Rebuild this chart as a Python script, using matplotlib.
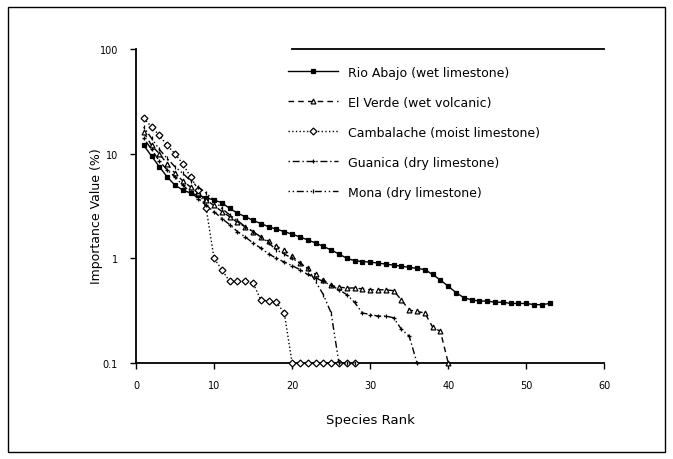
import matplotlib.pyplot as plt
from matplotlib.patches import Rectangle
import numpy as np

plt.rcParams.update({
    'font.family': 'DejaVu Sans',
    'font.size': 8,
})

# Importance values (%) by species rank
rio_abajo = [12, 9.5, 7.5, 6.0, 5.0, 4.5, 4.2, 4.0, 3.8, 3.6,
             3.4, 3.0, 2.7, 2.5, 2.3, 2.15, 2.0, 1.9, 1.8, 1.7,
             1.6, 1.5, 1.4, 1.3, 1.2, 1.1, 1.0, 0.95, 0.93, 0.92,
             0.9, 0.88, 0.86, 0.84, 0.82, 0.8, 0.78, 0.7, 0.62, 0.54,
             0.47, 0.42, 0.4, 0.39, 0.39, 0.38, 0.38, 0.37, 0.37, 0.37,
             0.36, 0.36, 0.37]
el_verde = [16, 12, 10, 8, 6.5, 5.5, 4.8, 4.2, 3.6, 3.2,
            2.8, 2.5, 2.2, 2.0, 1.8, 1.6, 1.45, 1.3, 1.2, 1.05,
            0.9, 0.8, 0.7, 0.62, 0.55, 0.53, 0.52, 0.52, 0.51, 0.5,
            0.5, 0.5, 0.49, 0.4, 0.32, 0.31, 0.3, 0.22, 0.2, 0.1]
cambalache = [22, 18, 15, 12, 10, 8, 6, 4.5, 3.0, 1.0,
              0.78, 0.6, 0.6, 0.6, 0.58, 0.4, 0.39, 0.38, 0.3, 0.1,
              0.1, 0.1, 0.1, 0.1, 0.1, 0.1, 0.1, 0.1]
guanica = [14, 11, 8.5, 7, 6, 5, 4.3, 3.7, 3.2, 2.8,
           2.4, 2.1, 1.8, 1.6, 1.4, 1.25, 1.1, 1.0, 0.92, 0.85,
           0.78, 0.7, 0.65, 0.6, 0.55, 0.5, 0.45, 0.38, 0.3, 0.29,
           0.28, 0.28, 0.27, 0.21, 0.18, 0.1]
mona = [18, 14, 11, 9, 7.5, 6.5, 5.5, 4.8, 4.2, 3.6,
        3.0, 2.6, 2.3, 2.0, 1.8, 1.6, 1.4, 1.2, 1.1, 1.0,
        0.9, 0.8, 0.6, 0.45, 0.3, 0.1, 0.1, 0.1]

series = [
    ('Rio Abajo (wet limestone)', rio_abajo, 's', '-', 'k'),
    ('El Verde (wet volcanic)', el_verde, '^', (0, (4, 3)), 'white'),
    ('Cambalache (moist limestone)', cambalache, 'D', ':', 'white'),
    ('Guanica (dry limestone)', guanica, '+', (0, (1, 2, 5, 2)), 'k'),
    ('Mona (dry limestone)', mona, '|', (0, (1, 2, 1, 2, 5, 2)), 'k'),
]

fig = plt.figure(figsize=(6.73, 4.60), dpi=100)
ax = fig.add_axes([0.202, 0.209, 0.696, 0.682])

for label, vals, mk, ls, mfc in series:
    ranks = np.arange(1, len(vals) + 1)
    ax.plot(ranks, vals, marker=mk, linestyle=ls, color='k', linewidth=1.0,
            markersize=3.5, markerfacecolor=mfc, markeredgecolor='k',
            markeredgewidth=0.9, clip_on=False, label=label, zorder=3)

ax.set_yscale('log')
ax.set_ylim(0.1, 100)
ax.set_xlim(0, 60)
ax.set_xticks(np.arange(0, 61, 10))
ax.set_yticks([0.1, 1, 10, 100])
ax.set_yticklabels(['0.1', '1', '10', '100'])
ax.minorticks_off()
ax.tick_params(axis='both', labelsize=7, length=4, width=1)
ax.tick_params(axis='y', pad=9)
ax.tick_params(axis='x', pad=8)

ax.set_xlabel('Species Rank', fontsize=9.5)
ax.xaxis.set_label_coords(0.5, -0.16)
ax.set_ylabel('Importance Value (%)', fontsize=9)
ax.yaxis.set_label_coords(-0.07, 0.47)

ax.spines['right'].set_visible(False)
ax.spines['top'].set_bounds(20, 60)
for s in ('left', 'bottom', 'top'):
    ax.spines[s].set_linewidth(1.3)

ax.legend(loc='upper left', bbox_to_anchor=(0.30, 0.983), frameon=False,
          fontsize=9, handlelength=4.0, labelspacing=1.36,
          handletextpad=0.8)

fig.patches.append(Rectangle((0.012, 0.015), 0.976, 0.968,
                             transform=fig.transFigure, fill=False,
                             edgecolor='k', linewidth=1.0))

plt.savefig('out.png', dpi=100, facecolor='white')
plt.close()
